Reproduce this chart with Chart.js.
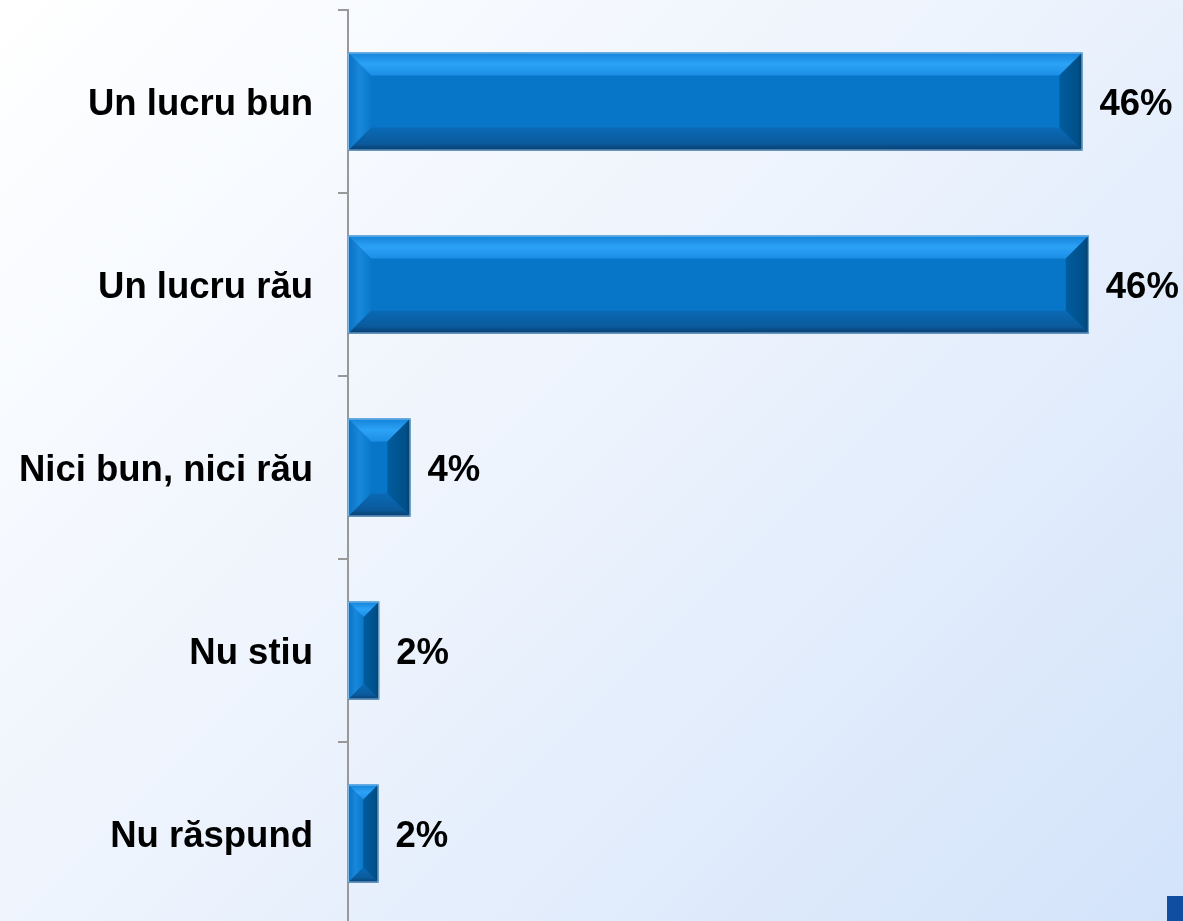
<!DOCTYPE html>
<html>
<head>
<meta charset="utf-8">
<script src="https://cdn.jsdelivr.net/npm/chart.js@4/dist/chart.umd.min.js"></script>
<style>
  html, body { margin: 0; padding: 0; width: 1183px; height: 921px; overflow: hidden; }
  body { background: linear-gradient(135deg, #ffffff 0%, #eef4fd 45%, #d3e3fa 100%); position: relative; }
  #wrap { position: absolute; left: 0; top: 0; width: 1183px; height: 936px; }
  #corner { position: absolute; left: 1167px; top: 896px; width: 16px; height: 25px; background: #0f4ea0; }
</style>
</head>
<body>
<div id="wrap"><canvas id="c"></canvas></div>
<div id="corner"></div>
<script>
const categories = ['Un lucru bun', 'Un lucru rău', 'Nici bun, nici rău', 'Nu stiu', 'Nu răspund'];
const values = [45.9, 46.3, 3.9, 1.95, 1.9];
const valueLabels = ['46%', '46%', '4%', '2%', '2%'];

const FONT = '"Liberation Sans", Arial, sans-serif';

// bevelled bars + value labels
const bevel = {
  id: 'bevel',
  afterDatasetsDraw(chart) {
    const ctx = chart.ctx;
    const meta = chart.getDatasetMeta(0);
    meta.data.forEach((bar, i) => {
      const p = bar.getProps(['x', 'y', 'base', 'height'], true);
      const L = Math.min(p.base, p.x), R = Math.max(p.base, p.x);
      const T = p.y - p.height / 2, B = p.y + p.height / 2;
      const b = Math.min(23, (R - L) / 2, p.height / 2);
      ctx.save();
      let g;
      // top
      g = ctx.createLinearGradient(0, T, 0, T + b);
      g.addColorStop(0, '#1383d8'); g.addColorStop(0.5, '#2ca2f6'); g.addColorStop(1, '#1b8ee6');
      ctx.fillStyle = g;
      ctx.beginPath(); ctx.moveTo(L, T); ctx.lineTo(R, T); ctx.lineTo(R - b, T + b); ctx.lineTo(L + b, T + b); ctx.closePath(); ctx.fill();
      // bottom
      g = ctx.createLinearGradient(0, B - b, 0, B);
      g.addColorStop(0, '#0a6ab6'); g.addColorStop(0.7, '#0a5a9c'); g.addColorStop(1, '#083c6c');
      ctx.fillStyle = g;
      ctx.beginPath(); ctx.moveTo(L, B); ctx.lineTo(R, B); ctx.lineTo(R - b, B - b); ctx.lineTo(L + b, B - b); ctx.closePath(); ctx.fill();
      // left
      g = ctx.createLinearGradient(L, 0, L + b, 0);
      g.addColorStop(0, '#0a70c0'); g.addColorStop(0.5, '#1888dc'); g.addColorStop(1, '#0a78c8');
      ctx.fillStyle = g;
      ctx.beginPath(); ctx.moveTo(L, T); ctx.lineTo(L + b, T + b); ctx.lineTo(L + b, B - b); ctx.lineTo(L, B); ctx.closePath(); ctx.fill();
      // right
      g = ctx.createLinearGradient(R - b, 0, R, 0);
      g.addColorStop(0, '#005c9e'); g.addColorStop(0.8, '#004f88'); g.addColorStop(1, '#0a3c66');
      ctx.fillStyle = g;
      ctx.beginPath(); ctx.moveTo(R, T); ctx.lineTo(R, B); ctx.lineTo(R - b, B - b); ctx.lineTo(R - b, T + b); ctx.closePath(); ctx.fill();
      // edge
      ctx.strokeStyle = 'rgba(160,200,235,0.8)';
      ctx.lineWidth = 1;
      ctx.strokeRect(L + 0.5, T + 0.5, R - L - 1, B - T - 1);

      ctx.fillStyle = '#000';
      ctx.font = 'bold 36.5px ' + FONT;
      ctx.textAlign = 'left';
      ctx.textBaseline = 'middle';
      ctx.fillText(valueLabels[i], R + 17, p.y + 3);
      ctx.restore();
    });
  }
};

new Chart(document.getElementById('c'), {
  type: 'bar',
  data: {
    labels: categories,
    datasets: [{
      data: values,
      backgroundColor: '#0776c8',
      borderWidth: 0,
      categoryPercentage: 1,
      barPercentage: 0.535
    }]
  },
  options: {
    indexAxis: 'y',
    responsive: true,
    maintainAspectRatio: false,
    animation: false,
    layout: { padding: { top: 10, bottom: 11, right: 3, left: 0 } },
    plugins: { legend: { display: false }, tooltip: { enabled: false } },
    scales: {
      x: { display: false, min: 0, max: 52 },
      y: {
        afterFit: s => { s.width = 348; s.paddingTop = 0; s.paddingBottom = 0; },
        border: { display: true, color: '#999999', width: 2 },
        grid: { display: true, drawOnChartArea: false, offset: true, tickLength: 10, color: '#999999', lineWidth: 2 },
        ticks: { color: '#000', padding: 25, labelOffset: 3, font: { family: FONT, size: 36.5, weight: 'bold' } }
      }
    }
  },
  plugins: [bevel]
});
</script>
</body>
</html>
